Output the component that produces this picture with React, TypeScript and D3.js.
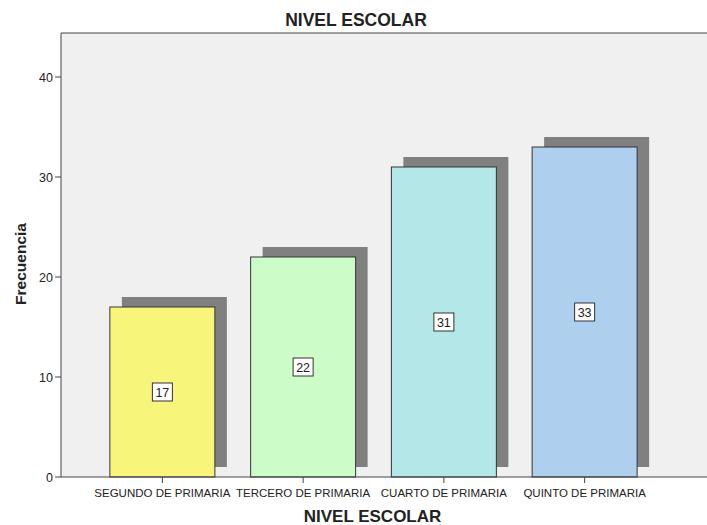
import React from "react";
import * as d3 from "d3";

const categories = ["SEGUNDO DE PRIMARIA", "TERCERO DE PRIMARIA", "CUARTO DE PRIMARIA", "QUINTO DE PRIMARIA"];
const frequencies = [17, 22, 31, 33];
const barColors = ["#F8F67A", "#CCFDC8", "#B4E7E7", "#AECFEE"];
const yTicks = [0, 10, 20, 30, 40];

const W = 707;
const H = 525;
const plotLeft = 61;
const plotTop = 33;
const plotBottom = 477;
const font = "'Liberation Sans', Arial, sans-serif";

export default function App() {
  const x = d3
    .scaleBand<string>()
    .domain(categories)
    .range([92, 655])
    .paddingInner(0.254)
    .paddingOuter(0.127);
  const y = d3.scaleLinear().domain([0, 40]).range([plotBottom, 77]);
  const shadowDx = 12;
  const shadowDy = -10;

  return (
    <svg
      width={W}
      height={H}
      style={{ position: "absolute", left: 0, top: 0, background: "#fff" }}
      fontFamily={font}
    >
      <rect x={plotLeft} y={plotTop} width={W - plotLeft} height={plotBottom - plotTop} fill="#F0F0F0" />
      <line x1={plotLeft} x2={W} y1={plotTop} y2={plotTop} stroke="#444" strokeWidth={1} />

      {/* drop shadows */}
      {categories.map((c, i) => (
        <rect
          key={"s" + c}
          x={(x(c) ?? 0) + shadowDx}
          y={y(frequencies[i]) + shadowDy}
          width={x.bandwidth()}
          height={y(0) - y(frequencies[i])}
          fill="#808080"
        />
      ))}

      {/* bars */}
      {categories.map((c, i) => (
        <rect
          key={"b" + c}
          x={x(c) ?? 0}
          y={y(frequencies[i])}
          width={x.bandwidth()}
          height={y(0) - y(frequencies[i])}
          fill={barColors[i]}
          stroke="#333"
          strokeWidth={1}
        />
      ))}

      {/* value labels */}
      {categories.map((c, i) => {
        const cx = (x(c) ?? 0) + x.bandwidth() / 2;
        const cy = y(frequencies[i] / 2);
        return (
          <g key={"l" + c}>
            <rect x={cx - 10} y={cy - 9} width={20} height={18} fill="#fff" stroke="#333" strokeWidth={1} />
            <text x={cx} y={cy + 4.5} textAnchor="middle" fontSize={12.5} fill="#222">
              {frequencies[i]}
            </text>
          </g>
        );
      })}

      {/* y axis */}
      <line x1={plotLeft} x2={plotLeft} y1={plotTop} y2={plotBottom} stroke="#444" />
      {yTicks.map((t) => (
        <g key={"y" + t}>
          <line x1={plotLeft - 6} x2={plotLeft} y1={y(t)} y2={y(t)} stroke="#444" />
          <text x={plotLeft - 8} y={y(t) + 4.5} textAnchor="end" fontSize={12.5} fill="#222">
            {t}
          </text>
        </g>
      ))}

      {/* x axis */}
      <line x1={plotLeft} x2={W} y1={plotBottom} y2={plotBottom} stroke="#444" />
      {categories.map((c) => {
        const cx = (x(c) ?? 0) + x.bandwidth() / 2;
        return (
          <g key={"x" + c}>
            <line x1={cx} x2={cx} y1={plotBottom} y2={plotBottom + 6} stroke="#444" />
            <text x={cx} y={plotBottom + 20} textAnchor="middle" fontSize={11.5} fill="#222">
              {c}
            </text>
          </g>
        );
      })}

      <text x={356} y={26} textAnchor="middle" fontSize={17.5} fontWeight="bold" fill="#222">
        NIVEL ESCOLAR
      </text>
      <text x={372.5} y={521.5} textAnchor="middle" fontSize={17} fontWeight="bold" fill="#222">
        NIVEL ESCOLAR
      </text>
      <text
        transform={`translate(26, ${264}) rotate(-90)`}
        textAnchor="middle"
        fontSize={15.5}
        fontWeight="bold"
        fill="#222"
      >
        Frecuencia
      </text>
    </svg>
  );
}
